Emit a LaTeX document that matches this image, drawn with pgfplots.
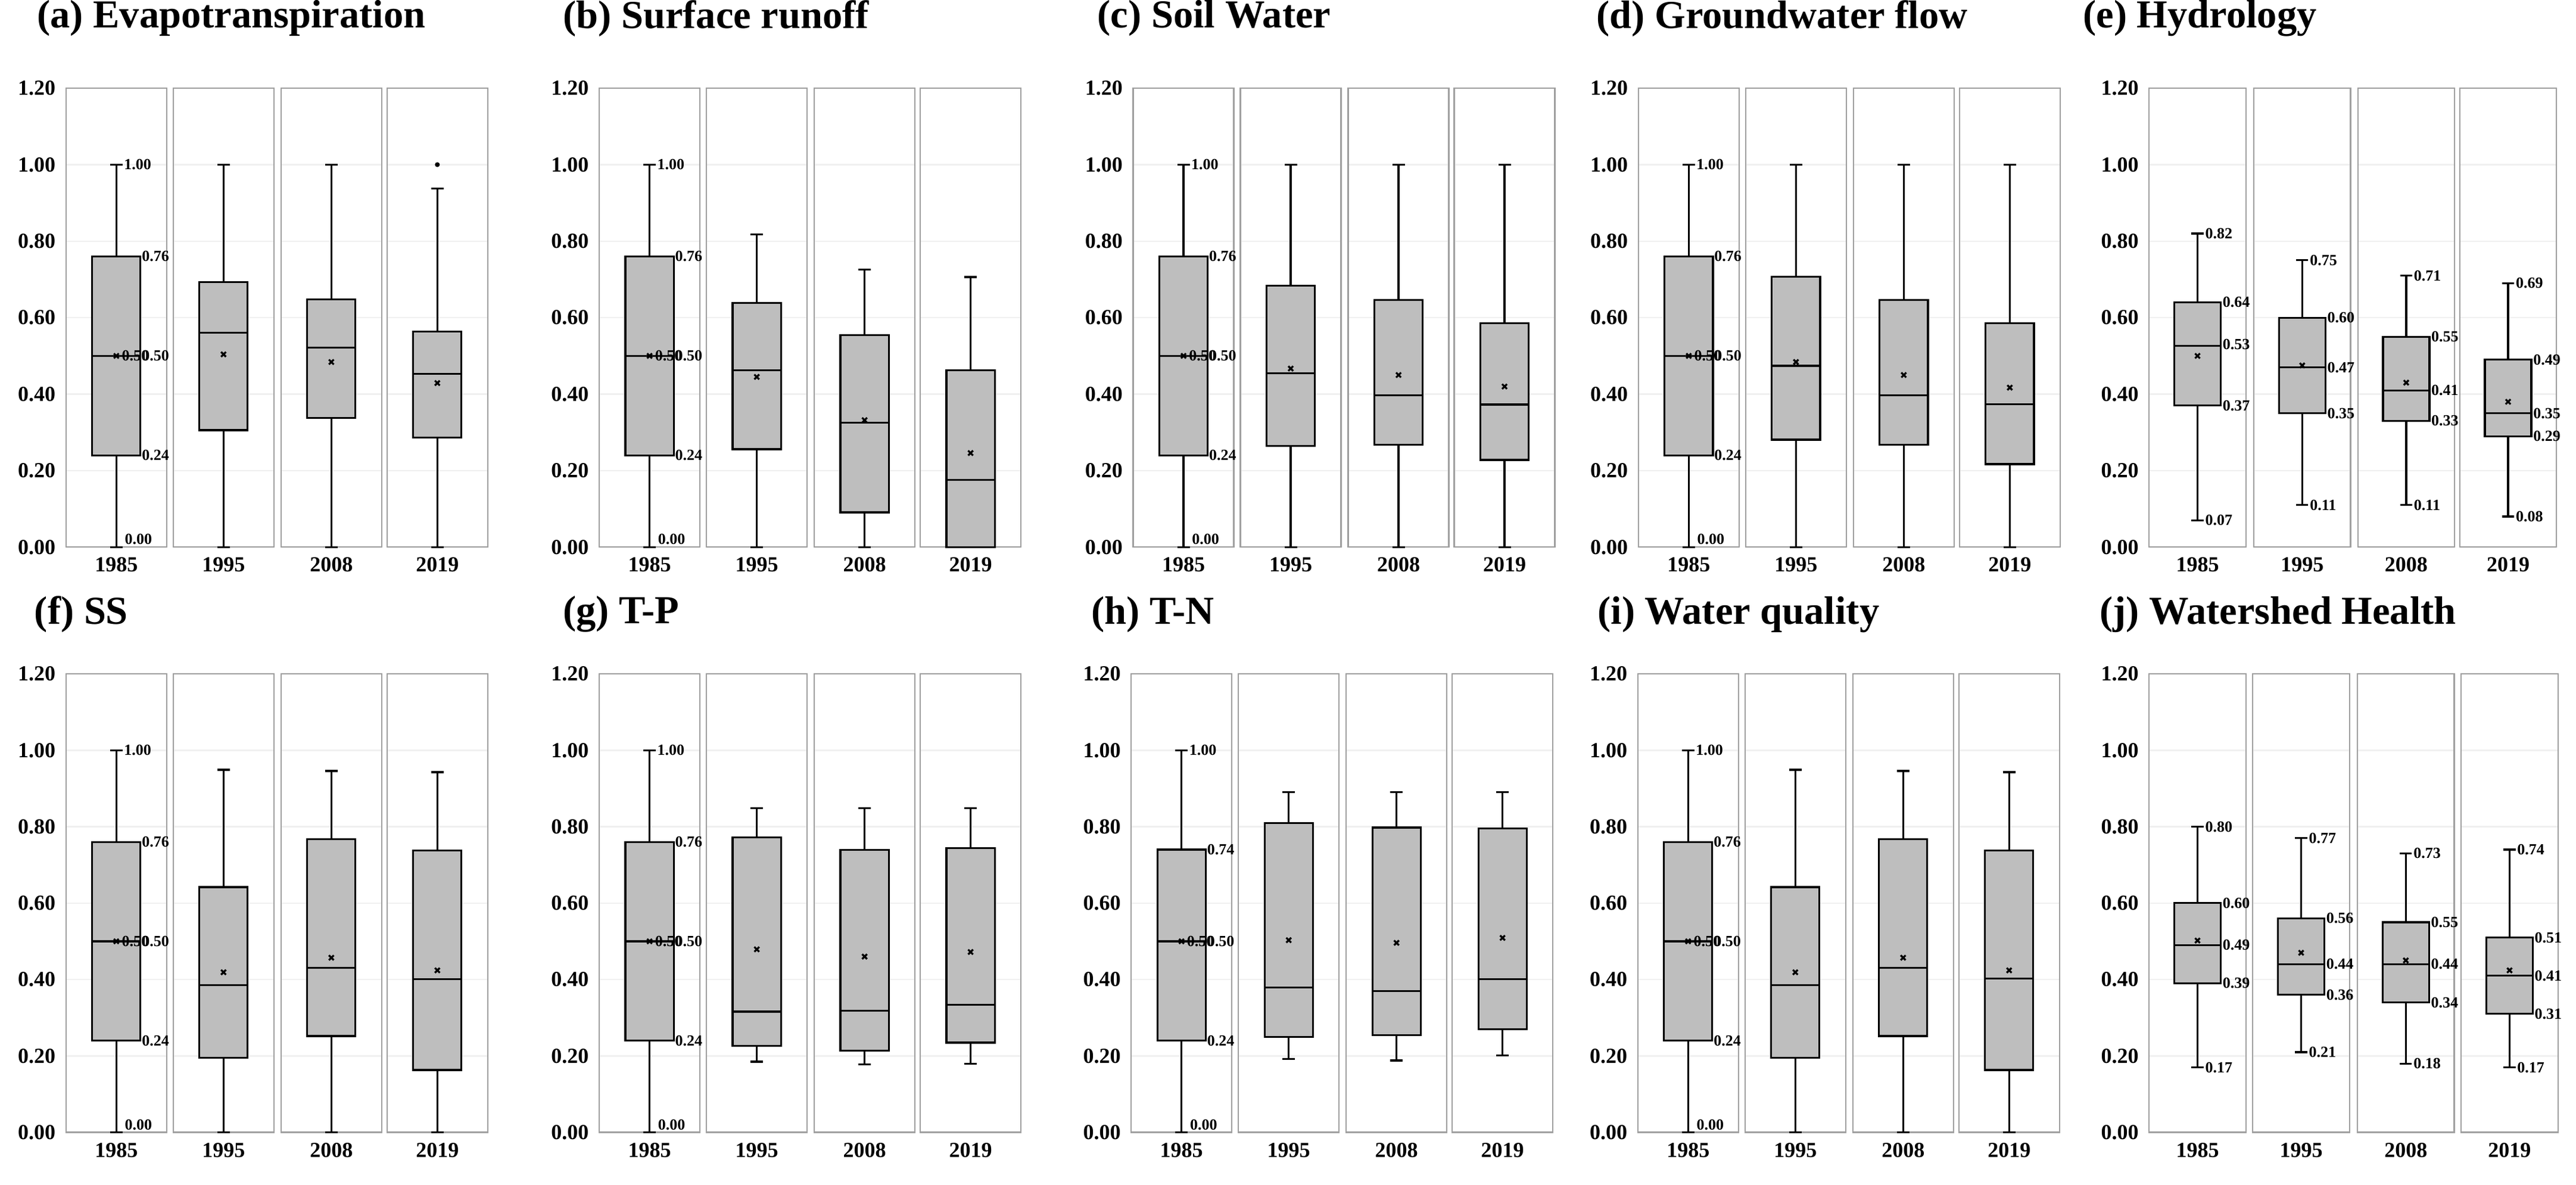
\documentclass[border=0pt]{standalone}
\usepackage{fontspec}
\setmainfont{Liberation Serif}
\usepackage{pgfplots}
\pgfplotsset{compat=1.18}
\usepgfplotslibrary{statistics}
\definecolor{boxgray}{RGB}{190,190,190}

% 1 px of the reference = 0.2pt
\pgfplotsset{
  sub/.style={scale only axis, width=33.8pt, xmin=0, xmax=1, ymin=0, ymax=1.2, clip=false,
    axis line style={draw=gray!75, line width=0.45pt},
    ytick={0,0.2,0.4,0.6,0.8,1,1.2}, xtick={0.5},
    major tick length=0pt,
    ymajorgrids, grid style={draw=gray!12, line width=0.5pt},
    tick label style={font=\fontsize{7.2}{8}\selectfont\bfseries},
    yticklabel style={/pgf/number format/.cd, fixed, fixed zerofill, precision=2, assume math mode=true},
    title style={at={(0,1)}, anchor=west, font=\fontsize{13.3}{15}\selectfont\bfseries}},
  top/.style={at={(#1*0.2pt,214.12pt)}, height=154.08pt},
  bot/.style={at={(#1*0.2pt,17.68pt)}, height=153.88pt},
  narrow/.style={width=32.5pt},
  noy/.style={yticklabels={}},
  yr/.style={xticklabels={#1}},
  tt/.style 2 args={title style={xshift=#1, yshift=#2}},
  bxs/.style={draw=black, line width=0.65pt, fill=boxgray,
    boxplot/draw direction=y, boxplot/box extend=0.48, boxplot/whisker extend=0.125,
    boxplot/every average/.style={/tikz/mark=x, /tikz/mark size=1.15pt, /tikz/line width=0.8pt, /tikz/draw=black}},
  lab/.style={draw=none, nodes near coords, point meta=explicit symbolic,
    nodes near coords align={horizontal},
    every node near coord/.append style={anchor=west, inner sep=0.3pt,
      font=\fontsize{5.2}{6}\selectfont\bfseries, text=black}},
}

% lower whisker, lower quartile, median, upper quartile, upper whisker, mean
\newcommand{\bp}[6]{\addplot[bxs, boxplot prepared={draw position=0.5, lower whisker=#1,
  lower quartile=#2, median=#3, upper quartile=#4, upper whisker=#5, average=#6}] coordinates {};}
\newcommand{\labstd}[1]{\addplot[lab] coordinates {(0.5625,1)[1.00] (0.74,#1)[#1] (0.74,0.5)[0.50]
  (0.54,0.5)[0.50] (0.74,0.24)[0.24] (0.57,0.02)[0.00]};}
\newcommand{\labs}[5]{\addplot[lab] coordinates {(0.565,#1)[#1] (0.745,#2)[#2] (0.745,#3)[#3]
  (0.745,#4)[#4] (0.565,#5)[#5]};}

\begin{document}
\begin{tikzpicture}
\useasboundingbox (0,0) rectangle (865pt,397.8pt);

% (a)
\begin{axis}[sub, top=110.8, yr=1985, title={(a) Evapotranspiration}, tt={-13.2pt}{17.4pt}]
\bp{0}{0.24}{0.50}{0.76}{1.00}{0.50} \labstd{0.76}
\end{axis}
\begin{axis}[sub, top=290.8, noy, yr=1995] \bp{0}{0.306}{0.561}{0.693}{1.00}{0.504} \end{axis}
\begin{axis}[sub, top=471.8, noy, yr=2008] \bp{0}{0.338}{0.522}{0.648}{1.00}{0.484} \end{axis}
\begin{axis}[sub, top=649.8, noy, yr=2019] \bp{0}{0.286}{0.453}{0.564}{0.937}{0.429}
\addplot[only marks, mark=*, mark size=0.6pt, black] coordinates {(0.5,1)};
\end{axis}

% (b)
\begin{axis}[sub, top=1006.1, yr=1985, title={(b) Surface runoff}, tt={-15.7pt}{17.4pt}]
\bp{0}{0.24}{0.50}{0.76}{1.00}{0.50} \labstd{0.76}
\end{axis}
\begin{axis}[sub, top=1186.1, noy, yr=1995] \bp{0}{0.256}{0.462}{0.638}{0.818}{0.445} \end{axis}
\begin{axis}[sub, top=1367.1, noy, yr=2008] \bp{0}{0.091}{0.325}{0.554}{0.726}{0.332} \end{axis}
\begin{axis}[sub, top=1545.1, noy, yr=2019] \bp{0}{0}{0.176}{0.462}{0.706}{0.246} \end{axis}

% (c)
\begin{axis}[sub, top=1902.6, yr=1985, title={(c) Soil Water}, tt={-15.5pt}{17.4pt}]
\bp{0}{0.24}{0.50}{0.76}{1.00}{0.50} \labstd{0.76}
\end{axis}
\begin{axis}[sub, top=2082.6, noy, yr=1995] \bp{0}{0.264}{0.455}{0.683}{1.00}{0.467} \end{axis}
\begin{axis}[sub, top=2263.6, noy, yr=2008] \bp{0}{0.268}{0.397}{0.646}{1.00}{0.450} \end{axis}
\begin{axis}[sub, top=2441.6, noy, yr=2019] \bp{0}{0.228}{0.373}{0.586}{1.00}{0.420} \end{axis}

% (d)
\begin{axis}[sub, top=2750.9, yr=1985, title={(d) Groundwater flow}, tt={-17.6pt}{17.4pt}]
\bp{0}{0.24}{0.50}{0.76}{1.00}{0.50} \labstd{0.76}
\end{axis}
\begin{axis}[sub, top=2930.9, noy, yr=1995] \bp{0}{0.281}{0.474}{0.707}{1.00}{0.484} \end{axis}
\begin{axis}[sub, top=3111.9, noy, yr=2008] \bp{0}{0.268}{0.397}{0.646}{1.00}{0.450} \end{axis}
\begin{axis}[sub, top=3289.9, noy, yr=2019] \bp{0}{0.217}{0.374}{0.586}{1.00}{0.417} \end{axis}

% (e)
\begin{axis}[sub, narrow, top=3608.3, yr=1985, title={(e) Hydrology}, tt={-25.7pt}{17.4pt}]
\bp{0.07}{0.37}{0.526}{0.64}{0.82}{0.50} \labs{0.07}{0.37}{0.53}{0.64}{0.82}
\end{axis}
\begin{axis}[sub, narrow, top=3784.1, noy, yr=1995]
\bp{0.11}{0.35}{0.47}{0.60}{0.75}{0.475} \labs{0.11}{0.35}{0.47}{0.60}{0.75}
\end{axis}
\begin{axis}[sub, narrow, top=3958.7, noy, yr=2008]
\bp{0.11}{0.33}{0.41}{0.55}{0.71}{0.43} \labs{0.11}{0.33}{0.41}{0.55}{0.71}
\end{axis}
\begin{axis}[sub, narrow, top=4129.8, noy, yr=2019]
\bp{0.08}{0.29}{0.35}{0.49}{0.69}{0.38} \labs{0.08}{0.29}{0.35}{0.49}{0.69}
\end{axis}

% (f)
\begin{axis}[sub, bot=110.8, yr=1985, title={(f) SS}, tt={-14.1pt}{14pt}]
\bp{0}{0.24}{0.50}{0.76}{1.00}{0.50} \labstd{0.76}
\end{axis}
\begin{axis}[sub, bot=290.8, noy, yr=1995] \bp{0}{0.195}{0.385}{0.642}{0.949}{0.419} \end{axis}
\begin{axis}[sub, bot=471.8, noy, yr=2008] \bp{0}{0.252}{0.431}{0.768}{0.946}{0.457} \end{axis}
\begin{axis}[sub, bot=649.8, noy, yr=2019] \bp{0}{0.163}{0.401}{0.738}{0.943}{0.424} \end{axis}

% (g)
\begin{axis}[sub, bot=1006.1, yr=1985, title={(g) T-P}, tt={-15.7pt}{14pt}]
\bp{0}{0.24}{0.50}{0.76}{1.00}{0.50} \labstd{0.76}
\end{axis}
\begin{axis}[sub, bot=1186.1, noy, yr=1995] \bp{0.185}{0.226}{0.316}{0.772}{0.849}{0.479} \end{axis}
\begin{axis}[sub, bot=1367.1, noy, yr=2008] \bp{0.178}{0.214}{0.318}{0.739}{0.849}{0.460} \end{axis}
\begin{axis}[sub, bot=1545.1, noy, yr=2019] \bp{0.180}{0.235}{0.334}{0.744}{0.849}{0.472} \end{axis}

% (h)
\begin{axis}[sub, bot=1899.2, yr=1985, title={(h) T-N}, tt={-16.9pt}{14pt}]
\bp{0}{0.24}{0.50}{0.74}{1.00}{0.50} \labstd{0.74}
\end{axis}
\begin{axis}[sub, bot=2079.2, noy, yr=1995] \bp{0.192}{0.250}{0.379}{0.809}{0.891}{0.503} \end{axis}
\begin{axis}[sub, bot=2260.2, noy, yr=2008] \bp{0.188}{0.254}{0.370}{0.798}{0.891}{0.496} \end{axis}
\begin{axis}[sub, bot=2438.2, noy, yr=2019] \bp{0.201}{0.270}{0.401}{0.796}{0.891}{0.509} \end{axis}

% (i)
\begin{axis}[sub, bot=2749.8, yr=1985, title={(i) Water quality}, tt={-17pt}{14pt}]
\bp{0}{0.24}{0.50}{0.76}{1.00}{0.50} \labstd{0.76}
\end{axis}
\begin{axis}[sub, bot=2929.8, noy, yr=1995] \bp{0}{0.195}{0.385}{0.642}{0.949}{0.419} \end{axis}
\begin{axis}[sub, bot=3110.8, noy, yr=2008] \bp{0}{0.252}{0.431}{0.768}{0.946}{0.457} \end{axis}
\begin{axis}[sub, bot=3288.8, noy, yr=2019] \bp{0}{0.163}{0.403}{0.738}{0.943}{0.424} \end{axis}

% (j)
\begin{axis}[sub, narrow, bot=3608.3, yr=1985, title={(j) Watershed Health}, tt={-20.1pt}{14pt}]
\bp{0.17}{0.39}{0.49}{0.60}{0.80}{0.502} \labs{0.17}{0.39}{0.49}{0.60}{0.80}
\end{axis}
\begin{axis}[sub, narrow, bot=3782.3, noy, yr=1995]
\bp{0.21}{0.36}{0.44}{0.56}{0.77}{0.470} \labs{0.21}{0.36}{0.44}{0.56}{0.77}
\end{axis}
\begin{axis}[sub, narrow, bot=3958.1, noy, yr=2008]
\bp{0.18}{0.34}{0.44}{0.55}{0.73}{0.450} \labs{0.18}{0.34}{0.44}{0.55}{0.73}
\end{axis}
\begin{axis}[sub, narrow, bot=4132.2, noy, yr=2019]
\bp{0.17}{0.31}{0.41}{0.51}{0.74}{0.424} \labs{0.17}{0.31}{0.41}{0.51}{0.74}
\end{axis}
\end{tikzpicture}
\end{document}
